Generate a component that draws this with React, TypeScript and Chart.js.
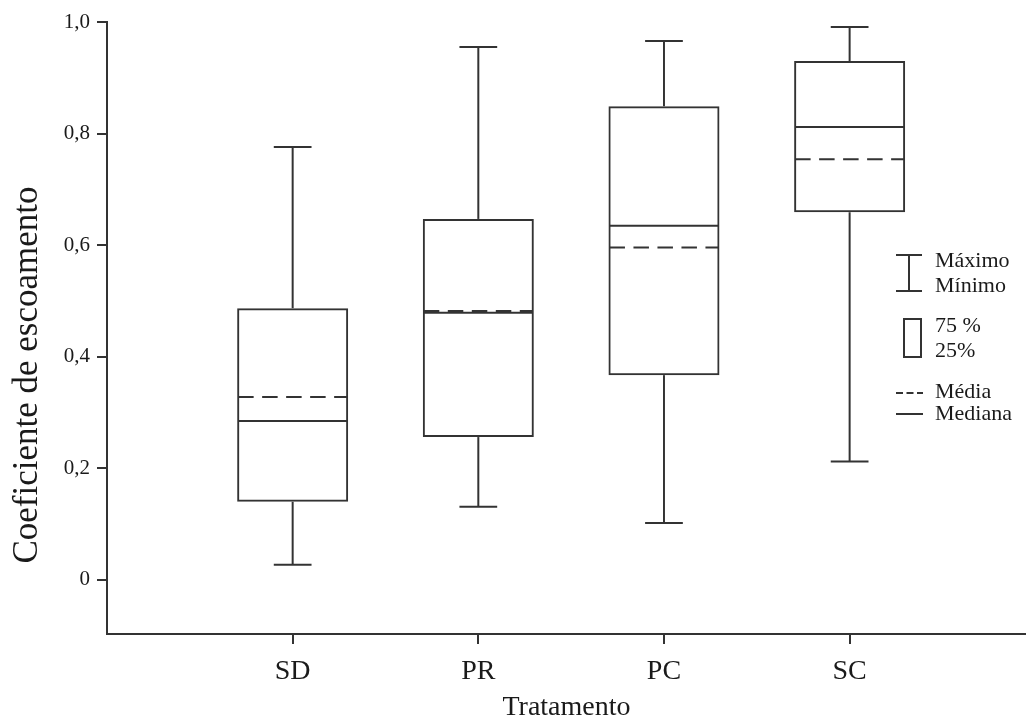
import React, { useEffect, useRef } from 'react';
import { Chart, registerables } from 'chart.js';

Chart.register(...registerables);

// ---- data ----
const CATEGORIES = ['SD', 'PR', 'PC', 'SC'];
const POSITIONS = [1, 2, 3, 4];
const MAXIMUM = [0.776, 0.955, 0.966, 0.991];
const Q3 = [0.487, 0.647, 0.849, 0.93];
const MEDIAN = [0.285, 0.479, 0.635, 0.812];
const MEAN = [0.328, 0.482, 0.596, 0.754];
const Q1 = [0.14, 0.256, 0.367, 0.659];
const MINIMUM = [0.027, 0.131, 0.102, 0.212];
const Y_TICKS = [0, 0.2, 0.4, 0.6, 0.8, 1.0];
const Y_MIN = -0.097;
const Y_MAX = 1.0;
const X_MIN = 0;
const X_MAX = 4.95;
const Y_TITLE = 'Coeficiente de escoamento';
const X_TITLE = 'Tratamento';
const LEGEND_WHISKER = ['Máximo', 'Mínimo'];
const LEGEND_BOX = ['75 %', '25%'];
const LEGEND_MEAN = 'Média';
const LEGEND_MEDIAN = 'Mediana';

const LINE = '#333333';
const TEXT = '#1a1a1a';
const FONT = '"Liberation Serif", "Times New Roman", serif';

const boxPlugin = {
  id: 'boxWhiskers',
  afterDatasetsDraw(chart: any) {
    const meta = chart.getDatasetMeta(0);
    const ys = chart.scales.y;
    const ctx = chart.ctx as CanvasRenderingContext2D;
    ctx.save();
    ctx.strokeStyle = LINE;
    ctx.lineWidth = 2;
    ctx.lineCap = 'butt';
    const line = (x1: number, y1: number, x2: number, y2: number) => {
      ctx.beginPath();
      ctx.moveTo(x1, y1);
      ctx.lineTo(x2, y2);
      ctx.stroke();
    };
    meta.data.forEach((bar: any, i: number) => {
      const { x, width } = bar.getProps(['x', 'width'], true);
      const left = x - width / 2 + 1;
      const right = x + width / 2 - 1;
      const capHalf = width * 0.17;
      const pMax = ys.getPixelForValue(MAXIMUM[i]);
      const pQ3 = ys.getPixelForValue(Q3[i]);
      const pMed = ys.getPixelForValue(MEDIAN[i]);
      const pMean = ys.getPixelForValue(MEAN[i]);
      const pQ1 = ys.getPixelForValue(Q1[i]);
      const pMin = ys.getPixelForValue(MINIMUM[i]);
      line(x, pQ3, x, pMax);
      line(x - capHalf, pMax, x + capHalf, pMax);
      line(x, pQ1, x, pMin);
      line(x - capHalf, pMin, x + capHalf, pMin);
      line(left, pMed, right, pMed);
      ctx.setLineDash([15.5, 8.5]);
      line(left, pMean, right, pMean);
      ctx.setLineDash([]);
    });
    ctx.restore();
  },
  afterDraw(chart: any) {
    const ctx = chart.ctx as CanvasRenderingContext2D;
    ctx.save();
    // y-axis title
    ctx.fillStyle = TEXT;
    ctx.font = `35px ${FONT}`;
    ctx.textAlign = 'center';
    ctx.textBaseline = 'alphabetic';
    ctx.translate(37, 375);
    ctx.rotate(-Math.PI / 2);
    ctx.fillText(Y_TITLE, 0, 0);
    ctx.restore();

    // legend
    ctx.save();
    ctx.strokeStyle = LINE;
    ctx.lineWidth = 2;
    const line = (x1: number, y1: number, x2: number, y2: number) => {
      ctx.beginPath();
      ctx.moveTo(x1, y1);
      ctx.lineTo(x2, y2);
      ctx.stroke();
    };
    // whisker symbol
    line(896, 255, 922, 255);
    line(909, 255, 909, 291);
    line(896, 291, 922, 291);
    // box symbol
    ctx.strokeRect(904, 319, 17, 38);
    // mean dashed
    ctx.setLineDash([7, 3.5]);
    line(896, 393, 923, 393);
    ctx.setLineDash([]);
    // median solid
    line(896, 414, 923, 414);

    ctx.fillStyle = TEXT;
    ctx.font = `22px ${FONT}`;
    ctx.textAlign = 'left';
    ctx.textBaseline = 'alphabetic';
    ctx.fillText(LEGEND_WHISKER[0], 935, 267);
    ctx.fillText(LEGEND_WHISKER[1], 935, 292);
    ctx.fillText(LEGEND_BOX[0], 935, 332);
    ctx.fillText(LEGEND_BOX[1], 935, 357);
    ctx.fillText(LEGEND_MEAN, 935, 398);
    ctx.fillText(LEGEND_MEDIAN, 935, 420);
    ctx.restore();
  },
};

export default function App() {
  const ref = useRef<HTMLCanvasElement | null>(null);
  useEffect(() => {
    if (!ref.current) return;
    const chart = new Chart(ref.current, {
      type: 'bar',
      data: {
        datasets: [
          {
            data: POSITIONS.map((p, i) => ({ x: p, y: [Q1[i], Q3[i]] })) as any,
            backgroundColor: 'rgba(0,0,0,0)',
            borderColor: LINE,
            borderWidth: 2,
            borderSkipped: false,
            barPercentage: 0.598,
            categoryPercentage: 1,
          },
        ],
      },
      options: {
        animation: false,
        responsive: true,
        maintainAspectRatio: false,
        layout: { padding: { top: 22, right: 0, left: 0, bottom: 0 } },
        plugins: { legend: { display: false }, tooltip: { enabled: false } },
        scales: {
          x: {
            type: 'linear',
            min: X_MIN,
            max: X_MAX,
            offset: false,
            afterBuildTicks: (scale: any) => {
              scale.ticks = POSITIONS.map((v) => ({ value: v }));
            },
            afterFit: (scale: any) => {
              scale.height = 88;
            },
            grid: {
              display: true,
              offset: false,
              drawOnChartArea: false,
              drawTicks: true,
              tickLength: 10,
              color: LINE,
              lineWidth: 2,
            },
            border: { display: true, color: LINE, width: 2 },
            ticks: {
              color: TEXT,
              padding: 11,
              font: { family: FONT, size: 28 },
              maxRotation: 0,
              autoSkip: false,
              callback: (v: any) => {
                const idx = POSITIONS.indexOf(Number(v));
                return idx >= 0 ? CATEGORIES[idx] : '';
              },
            },
            title: {
              display: true,
              text: X_TITLE,
              color: TEXT,
              font: { family: FONT, size: 28, lineHeight: 1 },
              padding: { top: 0, bottom: 0 },
            },
          },
          y: {
            type: 'linear',
            min: Y_MIN,
            max: Y_MAX,
            afterBuildTicks: (scale: any) => {
              scale.ticks = Y_TICKS.map((v) => ({ value: v }));
            },
            afterFit: (scale: any) => {
              scale.width = 107;
            },
            grid: {
              display: true,
              drawOnChartArea: false,
              drawTicks: true,
              tickLength: 10,
              color: LINE,
              lineWidth: 2,
            },
            border: { display: true, color: LINE, width: 2 },
            ticks: {
              color: TEXT,
              padding: 7,
              font: { family: FONT, size: 21 },
              autoSkip: false,
              callback: (v: any) => {
                const n = Number(v);
                if (n === 0) return '0';
                return n.toFixed(1).replace('.', ',');
              },
            },
          },
        },
      },
      plugins: [boxPlugin],
    });
    return () => chart.destroy();
  }, []);

  return (
    <div style={{ position: 'fixed', left: 0, top: 0, width: 1026, height: 722, background: '#fff' }}>
      <canvas ref={ref} />
    </div>
  );
}
